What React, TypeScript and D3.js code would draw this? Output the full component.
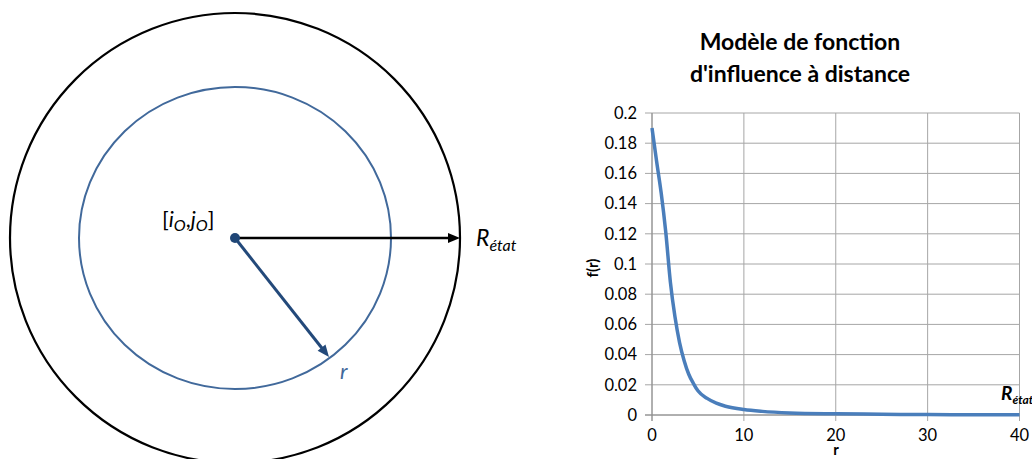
import * as React from 'react';
import * as d3 from 'd3';

// distance r and influence f(r)
const rValues = [0, 0.5, 1, 1.5, 2, 2.5, 3, 3.5, 4, 4.5, 5, 6, 7, 8, 10, 12, 15, 20, 25, 30, 35, 40];
const fValues = [0.19, 0.168, 0.147, 0.121, 0.088, 0.065, 0.048, 0.036, 0.027, 0.021, 0.016, 0.011, 0.0078, 0.0058, 0.0036, 0.0024, 0.0014, 0.0008, 0.0005, 0.0003, 0.0002, 0.0001];

const xTicks = [0, 10, 20, 30, 40];
const yTicks = [0, 0.02, 0.04, 0.06, 0.08, 0.1, 0.12, 0.14, 0.16, 0.18, 0.2];
const titleLines = ['Modèle de fonction', "d'influence à distance"];

const font = 'Lato, "Open Sans", sans-serif';

const App: React.FC = () => {
    const W = 1032, H = 459;

    // chart scales
    const x = d3.scaleLinear().domain([0, 40]).range([652, 1019.5]);
    const y = d3.scaleLinear().domain([0, 0.2]).range([415, 113]);

    const line = d3.line<number>()
        .x((_, i) => x(rValues[i]))
        .y(d => y(d))
        .curve(d3.curveMonotoneX);

    // diagram geometry
    const cx = 235, cy = 238;
    const outerR = 225;
    const innerRx = 156, innerRy = 151;
    const rTip: [number, number] = [329, 357];

    const arrowHead = (x0: number, y0: number, x1: number, y1: number, len: number, half: number) => {
        const dx = x1 - x0, dy = y1 - y0;
        const L = Math.hypot(dx, dy);
        const ux = dx / L, uy = dy / L;
        const bx = x1 - ux * len, by = y1 - uy * len;
        return `M${x1},${y1}L${bx - uy * half},${by + ux * half}L${bx + uy * half},${by - ux * half}Z`;
    };

    const gridColor = '#a6a6a6';

    return (
        <svg width={W} height={H} style={{ position: 'absolute', left: 0, top: 0, background: '#fff' }}>
            {/* LEFT DIAGRAM */}
            <g>
                <circle cx={cx} cy={cy} r={outerR} fill='none' stroke='#000' strokeWidth={2.2} />
                <ellipse cx={cx} cy={cy} rx={innerRx} ry={innerRy} fill='none' stroke='#41699b' strokeWidth={2} />
                <line x1={cx} y1={cy} x2={450} y2={cy} stroke='#000' strokeWidth={2.6} />
                <path d={arrowHead(cx, cy, 460, cy, 12, 5)} fill='#000' />
                <line x1={cx} y1={cy} x2={rTip[0] - 5} y2={rTip[1] - 6.3} stroke='#23497a' strokeWidth={3} />
                <path d={arrowHead(cx, cy, rTip[0], rTip[1], 12, 5)} fill='#23497a' />
                <circle cx={cx} cy={cy} r={5} fill='#1f4676' />
                <text x={162} y={227} fontFamily={font} fontSize={22} fill='#000'>
                    [<tspan fontStyle='italic'>i</tspan>
                    <tspan fontStyle='italic' fontSize={16} dy={4}>O</tspan>
                    <tspan dy={-4}>,</tspan>
                    <tspan fontStyle='italic'>j</tspan>
                    <tspan fontStyle='italic' fontSize={16} dy={4}>O</tspan>
                    <tspan dy={-4}>]</tspan>
                </text>
                <text x={476} y={246} fontFamily={font} fontSize={23} fill='#000' fontStyle='italic'>
                    R<tspan fontSize={16} dy={5}>état</tspan>
                </text>
                <text x={340} y={379} fontFamily={font} fontSize={22} fill='#41699b' fontStyle='italic'>r</text>
            </g>

            {/* RIGHT CHART */}
            <g>
                {titleLines.map((t, i) => (
                    <text key={i} x={800} y={50 + i * 32} textAnchor='middle' fontFamily={font}
                        fontWeight='bold' fontSize={23} fill='#000'>{t}</text>
                ))}

                {yTicks.map((v, i) => (
                    <g key={`y${i}`}>
                        <line x1={645} x2={x(40)} y1={y(v)} y2={y(v)} stroke={gridColor} strokeWidth={1} />
                        <text x={637} y={y(v)} dy='0.35em' textAnchor='end' fontFamily={font} fontSize={16.5} fill='#000'>{v}</text>
                    </g>
                ))}
                {xTicks.map((v, i) => (
                    <g key={`x${i}`}>
                        <line x1={x(v)} x2={x(v)} y1={y(0.2)} y2={421} stroke={gridColor} strokeWidth={1} />
                        <text x={x(v)} y={441} textAnchor='middle' fontFamily={font} fontSize={16.5} fill='#000'>{v}</text>
                    </g>
                ))}
                <line x1={x(0)} x2={x(0)} y1={y(0.2)} y2={421} stroke='#8c8c8c' strokeWidth={1} />
                <line x1={645} x2={x(40)} y1={y(0)} y2={y(0)} stroke='#8c8c8c' strokeWidth={1} />

                <path d={line(fValues) || ''} fill='none' stroke='#4a7ebb' strokeWidth={3.5} strokeLinejoin='round' />

                <text transform='translate(598,268) rotate(-90)' textAnchor='middle' fontFamily={font}
                    fontWeight='bold' fontSize={15} fill='#000'>f(r)</text>
                <text x={836} y={455} textAnchor='middle' fontFamily={font} fontWeight='bold' fontSize={15} fill='#000'>r</text>
                <text x={1001} y={400} fontFamily={font} fontWeight='bold' fontStyle='italic' fontSize={19} fill='#000'>
                    R<tspan fontSize={12} dy={4}>état</tspan>
                </text>
            </g>
        </svg>
    );
};

export default App;
